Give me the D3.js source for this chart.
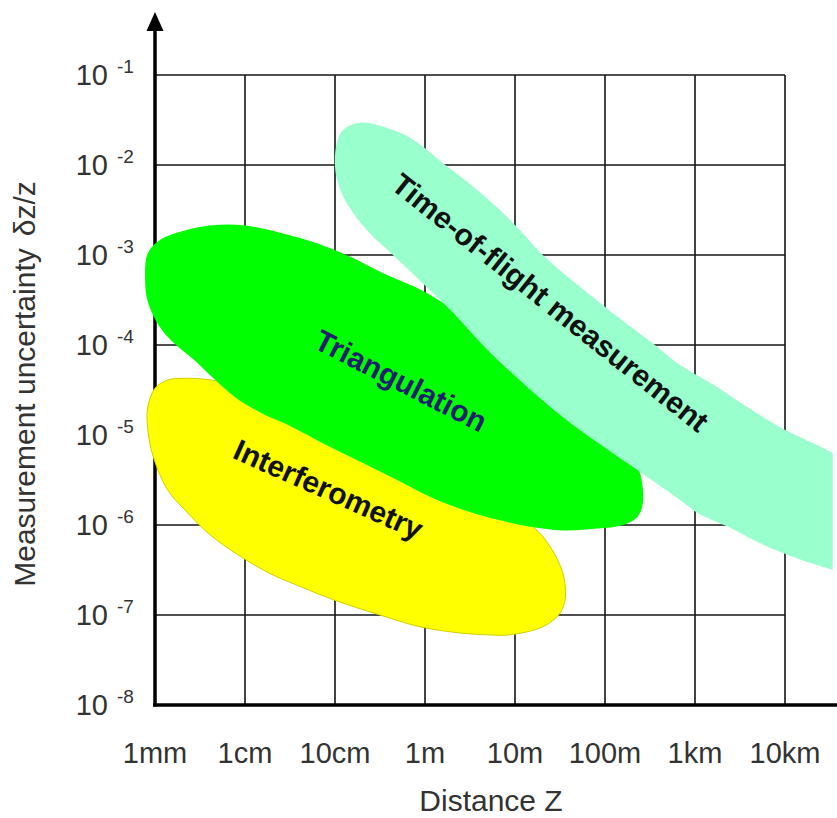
<!DOCTYPE html>
<html>
<head>
<meta charset="utf-8">
<script src="https://cdn.jsdelivr.net/npm/d3@7"></script>
<style>
  body { margin: 0; background: #fff; }
  svg { display: block; font-family: "Liberation Sans", Arial, sans-serif; }
</style>
</head>
<body>
<div id="chart"></div>
<script>
var w = 837;
var h = 818;

// axis ticks
var xTicks = [1e-3, 1e-2, 1e-1, 1, 10, 100, 1e3, 1e4];
var xTickLabels = ["1mm", "1cm", "10cm", "1m", "10m", "100m", "1km", "10km"];
var yTicks = [1e-1, 1e-2, 1e-3, 1e-4, 1e-5, 1e-6, 1e-7, 1e-8];
var yExponents = ["-1", "-2", "-3", "-4", "-5", "-6", "-7", "-8"];

// region outlines: [log10(Z / m), log10(dz/z)]
var interferometry = [
    [-3.08, -4.69], [-3.00, -4.48], [-2.86, -4.39], [-2.67, -4.37], [-2.37, -4.39],
    [-1.94, -4.50], [-1.17, -4.83], [-0.06, -5.39], [0.83, -5.83], [1.20, -6.02],
    [1.39, -6.24], [1.53, -6.53], [1.56, -6.80], [1.50, -6.98], [1.31, -7.13],
    [0.94, -7.22], [0.69, -7.22], [0.39, -7.20], [-0.06, -7.13], [-0.50, -7.00],
    [-1.02, -6.83], [-1.37, -6.69], [-1.74, -6.53], [-2.11, -6.31], [-2.41, -6.09],
    [-2.67, -5.83], [-2.86, -5.61], [-3.02, -5.24], [-3.08, -4.94]
];
var triangulation = [
    [-3.11, -3.28], [-3.08, -2.98], [-2.94, -2.83], [-2.64, -2.72], [-2.36, -2.67],
    [-2.02, -2.67], [-1.58, -2.76], [-1.20, -2.87], [-0.83, -3.02], [-0.47, -3.20],
    [0.00, -3.41], [0.50, -3.74], [1.28, -4.39], [2.06, -5.06], [2.36, -5.36],
    [2.41, -5.52], [2.42, -5.76], [2.36, -5.91], [2.20, -6.00], [1.91, -6.04],
    [1.53, -6.06], [1.17, -6.02], [0.80, -5.94], [0.42, -5.83], [0.06, -5.69],
    [-0.31, -5.50], [-0.69, -5.31], [-1.06, -5.13], [-1.56, -4.87], [-1.81, -4.76],
    [-2.11, -4.58], [-2.33, -4.39], [-2.56, -4.17], [-2.80, -3.97], [-2.96, -3.78],
    [-3.08, -3.52]
];
// open outline, closed by the straight cut at the right
var timeOfFlight = [
    [4.53, -5.20], [4.31, -5.09], [3.94, -4.91], [3.58, -4.69], [3.20, -4.44],
    [2.83, -4.22], [2.53, -3.98], [1.98, -3.56], [1.33, -3.02], [1.06, -2.73],
    [0.80, -2.47], [0.50, -2.21], [0.20, -1.98], [-0.13, -1.72], [-0.42, -1.59],
    [-0.72, -1.53], [-0.91, -1.61], [-0.98, -1.76], [-1.00, -2.02], [-0.94, -2.28],
    [-0.80, -2.53], [-0.61, -2.76], [-0.42, -2.94], [-0.06, -3.28], [0.31, -3.64],
    [0.72, -4.08], [1.53, -4.80], [2.36, -5.39], [2.83, -5.72], [3.02, -5.86],
    [3.39, -6.03], [3.76, -6.22], [4.13, -6.37], [4.53, -6.50]
];

// labels: [text, log10 Z, log10 dz/z, angle, colour]
var regionLabels = [
    ["Time-of-flight measurement", 1.32, -3.62, 38.5, "#111"],
    ["Triangulation", -0.32, -4.50, 27, "#1e1e6e"],
    ["Interferometry", -1.12, -5.71, 24, "#111"]
];

var svg = d3.select("#chart")
    .append("svg")
    .attr("width", w)
    .attr("height", h);

var xScale = d3.scaleLog()
    .domain([1e-3, 1e4])
    .range([155, 785]);

var yScale = d3.scaleLog()
    .domain([1e-8, 1e-1])
    .range([705, 75]);

var x0 = xScale(1e-3), x1 = xScale(1e4);
var yTop = yScale(1e-1), yBot = yScale(1e-8);

// grid
var grid = svg.append("g")
    .attr("stroke", "#151515")
    .attr("stroke-width", 1.6);

grid.selectAll(".vgrid")
    .data(xTicks.slice(1))
    .enter()
    .append("line")
    .attr("class", "vgrid")
    .attr("x1", function (d) { return xScale(d); })
    .attr("x2", function (d) { return xScale(d); })
    .attr("y1", yTop)
    .attr("y2", yBot);

grid.selectAll(".hgrid")
    .data(yTicks.slice(0, -1))
    .enter()
    .append("line")
    .attr("class", "hgrid")
    .attr("x1", x0)
    .attr("x2", x1)
    .attr("y1", function (d) { return yScale(d); })
    .attr("y2", function (d) { return yScale(d); });

// axes
svg.append("line")
    .attr("x1", x0 - 2)
    .attr("x2", w)
    .attr("y1", yBot)
    .attr("y2", yBot)
    .attr("stroke", "#000")
    .attr("stroke-width", 3.5);

svg.append("line")
    .attr("x1", x0)
    .attr("x2", x0)
    .attr("y1", yBot + 1.5)
    .attr("y2", 26)
    .attr("stroke", "#000")
    .attr("stroke-width", 3.5);

svg.append("path")
    .attr("d", "M" + x0 + ",12L" + (x0 - 8.5) + ",31L" + (x0 + 8.5) + ",31Z")
    .attr("fill", "#000");

// regions
var closedLine = d3.line()
    .x(function (d) { return xScale(Math.pow(10, d[0])); })
    .y(function (d) { return yScale(Math.pow(10, d[1])); })
    .curve(d3.curveCatmullRomClosed.alpha(0.5));

var openLine = d3.line()
    .x(function (d) { return xScale(Math.pow(10, d[0])); })
    .y(function (d) { return yScale(Math.pow(10, d[1])); })
    .curve(d3.curveCatmullRom.alpha(0.5));

svg.append("path")
    .attr("d", closedLine(interferometry))
    .attr("fill", "#ffff00")
    .attr("stroke", "#cfcf00")
    .attr("stroke-width", 1);

svg.append("path")
    .attr("d", closedLine(triangulation))
    .attr("fill", "#00ff00");

svg.append("path")
    .attr("d", openLine(timeOfFlight) + "Z")
    .attr("fill", "#99ffcc");

// region labels
svg.selectAll(".region-label")
    .data(regionLabels)
    .enter()
    .append("text")
    .attr("class", "region-label")
    .attr("transform", function (d) {
        return "translate(" + xScale(Math.pow(10, d[1])) + "," + yScale(Math.pow(10, d[2])) + ") rotate(" + d[3] + ")";
    })
    .attr("text-anchor", "middle")
    .attr("font-size", "30px")
    .attr("font-weight", "bold")
    .attr("fill", function (d) { return d[4]; })
    .text(function (d) { return d[0]; });

// x tick labels
svg.selectAll(".xlab")
    .data(xTicks)
    .enter()
    .append("text")
    .attr("class", "xlab")
    .attr("x", function (d) { return xScale(d); })
    .attr("y", yBot + 58)
    .attr("text-anchor", "middle")
    .attr("font-size", "29px")
    .attr("fill", "#333")
    .text(function (d, i) { return xTickLabels[i]; });

// y tick labels, 10 with raised exponent
var ylab = svg.selectAll(".ylab")
    .data(yTicks)
    .enter()
    .append("g")
    .attr("class", "ylab")
    .attr("transform", function (d) { return "translate(0," + yScale(d) + ")"; });

ylab.append("text")
    .attr("x", 108)
    .attr("y", 10)
    .attr("text-anchor", "end")
    .attr("font-size", "29px")
    .attr("fill", "#333")
    .text("10");

ylab.append("text")
    .attr("x", 117)
    .attr("y", -2)
    .attr("font-size", "19px")
    .attr("fill", "#333")
    .text(function (d, i) { return yExponents[i]; });

// axis titles
svg.append("text")
    .attr("x", 491)
    .attr("y", 811)
    .attr("text-anchor", "middle")
    .attr("font-size", "30px")
    .attr("fill", "#333")
    .text("Distance Z");

var ytitle = svg.append("text")
    .attr("transform", "translate(35,384) rotate(-90)")
    .attr("text-anchor", "middle")
    .attr("font-size", "30px")
    .attr("fill", "#333")
    .text("Measurement uncertainty");
ytitle.append("tspan")
    .attr("dx", 12)
    .text("δz/z");
</script>
</body>
</html>
